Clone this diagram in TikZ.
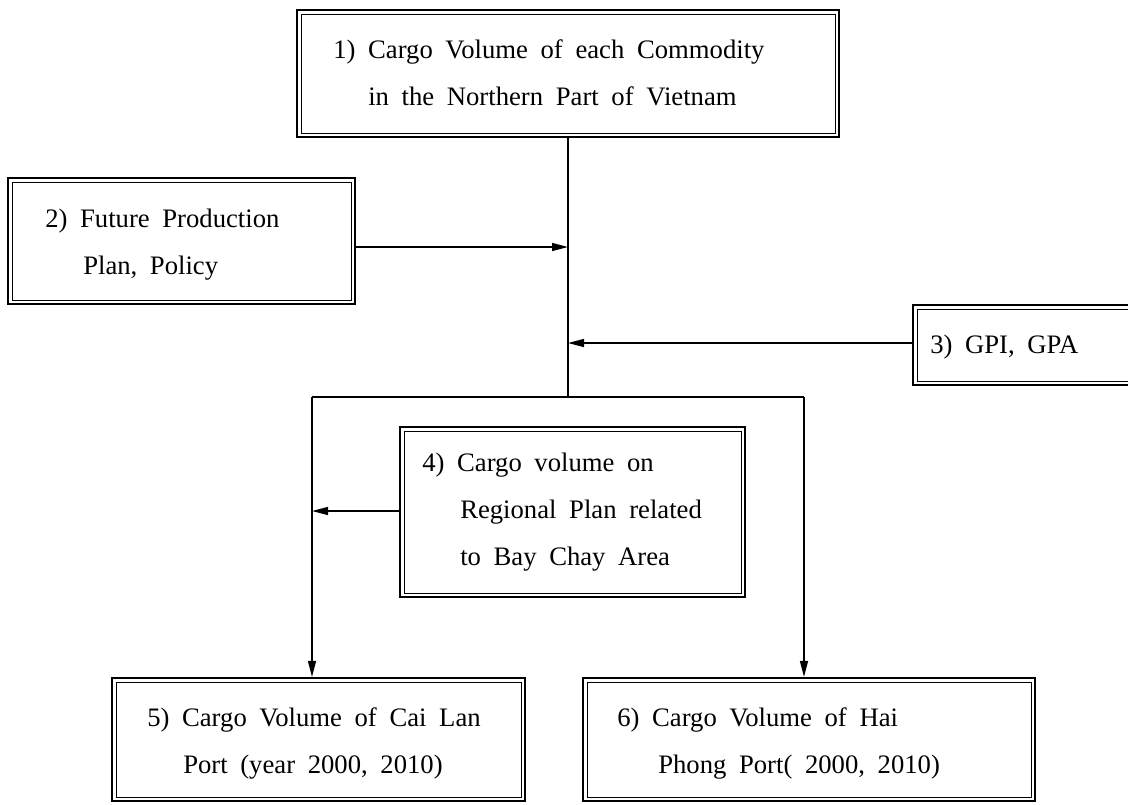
\documentclass[tikz,border=0pt]{standalone}
\usepackage{fontspec}
\setmainfont[WordSpace=1.9]{Liberation Serif}
\usetikzlibrary{arrows.meta,fit}
\tikzset{
  dbox/.style={draw, line width=1.6pt, inner sep=0pt},
  inbox/.style={line width=0.7pt},
  conn/.style={line width=1.1pt},
  arr/.style={line width=1.1pt, -{Triangle[length=12pt,width=6pt]}},
  lbl/.style={anchor=base west, inner sep=0pt, font=\fontsize{20}{24}\selectfont}
}
\newcommand{\mydbox}[5]{%
  \node[dbox, fit={(#2,#3) (#4,#5)}] (#1) {};
  \draw[inbox] ([xshift=3.8pt,yshift=-3.8pt]#1.north west) rectangle ([xshift=-3.8pt,yshift=3.8pt]#1.south east);
}
\begin{document}
\begin{tikzpicture}[x=0.75pt,y=-0.75pt]
\useasboundingbox (0,0) rectangle (1128,804);
\clip (0,0) rectangle (1128,804);
\fill[white] (0,0) rectangle (1128,804);
\mydbox{b1}{297}{10}{839}{137}
\mydbox{b2}{8}{178}{355}{304}
\mydbox{b3}{913}{305}{1145}{385}
\mydbox{b4}{400}{427}{745}{597}
\mydbox{b5}{112}{678}{525}{801}
\mydbox{b6}{583}{678}{1035}{801}
\node[lbl] (t1a) at (333,58) {1)\ Cargo Volume of each Commodity};
\node[lbl] (t1b) at (368,105) {in the Northern Part of Vietnam};
\node[lbl] (t2a) at (45,227) {2)\ Future Production};
\node[lbl] (t2b) at (83,274) {Plan, Policy};
\node[lbl] (t3a) at (930,353) {3)\ GPI, GPA};
\node[lbl] (t4a) at (422,471) {4)\ Cargo volume on};
\node[lbl] (t4b) at (460,518) {Regional Plan related};
\node[lbl] (t4c) at (460,565) {to Bay Chay Area};
\node[lbl] (t5a) at (147,726) {5)\ Cargo Volume of Cai Lan};
\node[lbl] (t5b) at (183,773) {Port (year 2000, 2010)};
\node[lbl] (t6a) at (617,726) {6)\ Cargo Volume of Hai};
\node[lbl] (t6b) at (658,773) {Phong Port( 2000, 2010)};
\coordinate (j2) at (568,247);
\coordinate (j3) at (568,343);
\coordinate (jb) at (568,397);
\coordinate (bl) at (312,397);
\coordinate (br) at (804,397);
\coordinate (j4) at (312,511);
\draw[conn] (b1.south -| jb) -- (jb);
\draw[arr] (b2.east |- j2) -- (j2);
\draw[arr] (b3.west |- j3) -- (j3);
\draw[conn] (bl) -- (br);
\draw[arr] (bl) -- (b5.north -| bl);
\draw[arr] (br) -- (b6.north -| br);
\draw[arr] (b4.west |- j4) -- (j4);
\end{tikzpicture}
\end{document}
